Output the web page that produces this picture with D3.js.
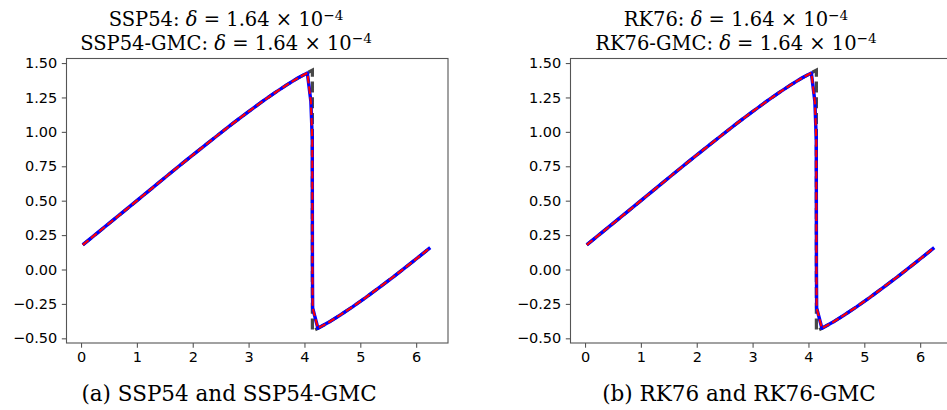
<!DOCTYPE html>
<html>
<head>
<meta charset="utf-8">
<script src="https://cdn.jsdelivr.net/npm/d3@7/dist/d3.min.js"></script>
<style>
  body { margin: 0; background: #fff; }
  svg { display: block; }
  .ttl, .cap { font-family: "DejaVu Serif", serif; fill: #000; }
</style>
</head>
<body>
<div id="chart"></div>
<script>
// values (exact solution and numerical solutions)
var xExact = [0.031, 0.255, 0.551, 0.760, 1.000, 1.300, 1.597, 1.891, 2.179, 2.459, 2.729, 2.988, 3.235, 3.467, 3.683, 3.882, 4.064, 4.142, 4.142, 4.248, 4.433, 4.635, 4.854, 5.089, 5.337, 5.599, 5.871, 6.152, 6.252];
var uExact = [0.179, 0.253, 0.351, 0.420, 0.500, 0.600, 0.699, 0.796, 0.889, 0.979, 1.065, 1.144, 1.217, 1.283, 1.341, 1.391, 1.432, 1.448, -0.448, -0.426, -0.384, -0.332, -0.273, -0.206, -0.131, -0.051, 0.035, 0.126, 0.159];

var xNum = [0.031, 0.255, 0.551, 0.760, 1.000, 1.300, 1.597, 1.891, 2.179, 2.459, 2.729, 2.988, 3.235, 3.467, 3.683, 3.882, 4.052, 4.115, 4.140, 4.143, 4.147, 4.241, 4.433, 4.635, 4.854, 5.089, 5.337, 5.599, 5.871, 6.152, 6.252];
var uSSP54    = [0.179, 0.253, 0.351, 0.420, 0.500, 0.600, 0.699, 0.796, 0.889, 0.979, 1.065, 1.144, 1.217, 1.283, 1.341, 1.391, 1.428, 1.220, 0.950, 0.000, -0.280, -0.427, -0.384, -0.332, -0.273, -0.206, -0.131, -0.051, 0.035, 0.126, 0.159];
var uSSP54GMC = [0.179, 0.253, 0.351, 0.420, 0.500, 0.600, 0.699, 0.796, 0.889, 0.979, 1.065, 1.144, 1.217, 1.283, 1.341, 1.391, 1.428, 1.220, 0.950, 0.000, -0.280, -0.427, -0.384, -0.332, -0.273, -0.206, -0.131, -0.051, 0.035, 0.126, 0.159];
var uRK76     = [0.179, 0.253, 0.351, 0.420, 0.500, 0.600, 0.699, 0.796, 0.889, 0.979, 1.065, 1.144, 1.217, 1.283, 1.341, 1.391, 1.428, 1.220, 0.950, 0.000, -0.280, -0.427, -0.384, -0.332, -0.273, -0.206, -0.131, -0.051, 0.035, 0.126, 0.159];
var uRK76GMC  = [0.179, 0.253, 0.351, 0.420, 0.500, 0.600, 0.699, 0.796, 0.889, 0.979, 1.065, 1.144, 1.217, 1.283, 1.341, 1.391, 1.428, 1.220, 0.950, 0.000, -0.280, -0.427, -0.384, -0.332, -0.273, -0.206, -0.131, -0.051, 0.035, 0.126, 0.159];

var xTicks = [0, 1, 2, 3, 4, 5, 6];
var yTicks = [-0.5, -0.25, 0, 0.25, 0.5, 0.75, 1.0, 1.25, 1.5];

var panels = [
  { name: "SSP54", base: uSSP54, gmc: uSSP54GMC, delta: "1.64", caption: "(a) SSP54 and SSP54-GMC", dx: 0, cx: 226 },
  { name: "RK76",  base: uRK76,  gmc: uRK76GMC,  delta: "1.64", caption: "(b) RK76 and RK76-GMC",  dx: 504, cx: 736 }
];

var W = 947, H = 410;
var svg = d3.select("#chart").append("svg").attr("width", W).attr("height", H);

// axes frame of the left panel; right one is shifted by dx
var fL = 66.5, fR = 448, fT = 58.5, fB = 343;

var fmt = function(d) { return d3.format(".2f")(d).replace("-", "\u2212"); };

function toPts(xs, ys) { return xs.map(function(x, i) { return [x, ys[i]]; }); }

panels.forEach(function(p) {
  var x = d3.scaleLinear().domain([-0.26, 6.57]).range([fL + p.dx, fR + p.dx]);
  var y = d3.scaleLinear().domain([-0.534, 1.533]).range([fB, fT]);
  var line = d3.line().x(function(d) { return x(d[0]); }).y(function(d) { return y(d[1]); });

  var g = svg.append("g");

  // exact solution (black dashed), then scheme (blue), then GMC (red dashed)
  g.append("path").datum(toPts(xExact, uExact))
    .attr("d", line).attr("fill", "none")
    .attr("stroke", "#000").attr("stroke-opacity", 0.72)
    .attr("stroke-width", 3.2).attr("stroke-dasharray", "11,4.8");
  g.append("path").datum(toPts(xNum, p.base))
    .attr("d", line).attr("fill", "none")
    .attr("stroke", "#0000ff").attr("stroke-width", 3.4)
    .attr("stroke-linejoin", "round");
  g.append("path").datum(toPts(xNum, p.gmc))
    .attr("d", line).attr("fill", "none")
    .attr("stroke", "#ff0000").attr("stroke-width", 2.1)
    .attr("stroke-dasharray", "7.4,3.2");

  // frame
  g.append("rect")
    .attr("x", fL + p.dx).attr("y", fT)
    .attr("width", fR - fL).attr("height", fB - fT)
    .attr("fill", "none").attr("stroke", "#555").attr("stroke-width", 1.1);

  var ax = g.append("g").attr("transform", "translate(0," + fB + ")")
    .call(d3.axisBottom(x).tickValues(xTicks).tickFormat(d3.format("d")).tickSize(4.7).tickPadding(4));
  var ay = g.append("g").attr("transform", "translate(" + (fL + p.dx) + ",0)")
    .call(d3.axisLeft(y).tickValues(yTicks).tickFormat(fmt).tickSize(4.7).tickPadding(4.5));
  [ax, ay].forEach(function(a) {
    a.select(".domain").remove();
    a.selectAll(".tick line").attr("stroke", "#555").attr("stroke-width", 1.1);
    a.selectAll(".tick text")
      .style("font-family", "'DejaVu Sans', sans-serif")
      .style("font-size", "14.5px").attr("fill", "#000");
  });

  // two-line title
  var lines = [p.name + ": ", p.name + "-GMC: "];
  lines.forEach(function(lbl, i) {
    var t = g.append("text").attr("class", "ttl")
      .attr("x", p.cx).attr("y", i === 0 ? 26 : 49.5)
      .attr("text-anchor", "middle").style("font-size", "19.5px");
    t.append("tspan").text(lbl);
    t.append("tspan").style("font-style", "italic").text("\u03b4");
    t.append("tspan").text(" = " + p.delta + " \u00d7 10");
    t.append("tspan").attr("dy", "-0.45em").style("font-size", "70%").text("\u22124");
  });

  g.append("text").attr("class", "cap")
    .attr("x", p.cx + 3).attr("y", 401)
    .attr("text-anchor", "middle").style("font-size", "21.5px")
    .text(p.caption);
});
</script>
</body>
</html>
